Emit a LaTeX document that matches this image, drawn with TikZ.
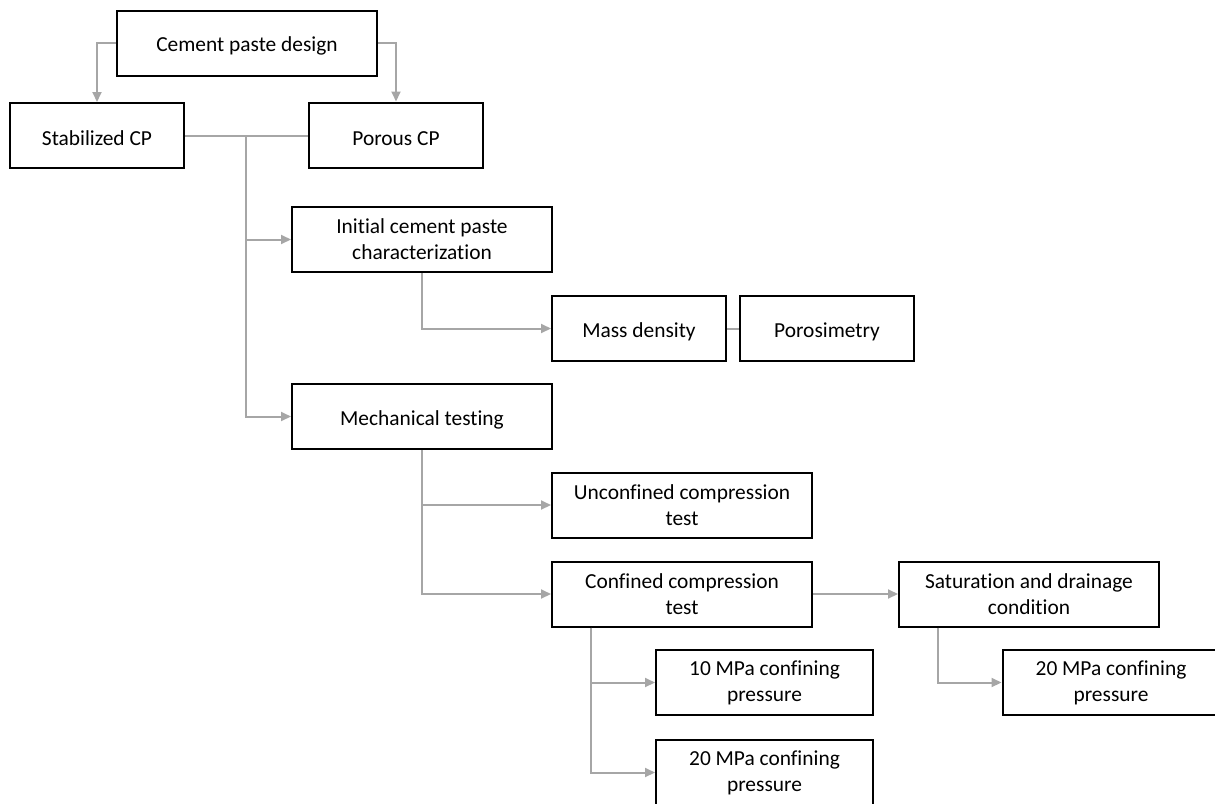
\documentclass[tikz,border=0pt]{standalone}
\usepackage{fontspec}
\setmainfont{Carlito}[Ligatures=NoCommon]
\usepackage{xcolor}
\definecolor{link-gray}{RGB}{166,166,166}
\usetikzlibrary{arrows.meta}
\usetikzlibrary{calc}
\tikzstyle{box}=[draw=black, line width=2pt, fill=white, align=center, inner sep=0pt, font=\fontsize{21.4}{26}\selectfont, execute at begin node={\rule{0pt}{21pt}}]
\tikzstyle{widebox}=[box, minimum width=260pt, minimum height=65pt]
\tikzstyle{smallbox}=[box, minimum width=174pt, minimum height=65pt]
\tikzstyle{pressbox}=[box, minimum width=217pt, minimum height=65pt]
\tikzstyle{link}=[draw=link-gray, line width=2pt]
\tikzstyle{linkarrow}=[link, -{Triangle[length=10pt,width=9pt]}]

\begin{document}
\begin{tikzpicture}[x=1pt,y=-1pt]
	\useasboundingbox (0,0) rectangle (1215,803);
	% boxes
	\node[widebox] (design) at (247,43) {Cement paste design};
	\node[smallbox] (stab) at (97,135.5) {Stabilized CP};
	\node[smallbox] (porous) at (396,135) {Porous CP};
	\node[widebox] (init) at (422,239.5) {Initial cement paste\\characterization};
	\node[smallbox] (mass) at (639,328.5) {Mass density};
	\node[smallbox] (poro) at (827,328.5) {Porosimetry};
	\node[widebox] (mech) at (422,416.5) {Mechanical testing};
	\node[widebox] (unconf) at (682,505) {Unconfined compression\\test};
	\node[widebox] (conf) at (682,594) {Confined compression\\test};
	\node[widebox] (satur) at (1029,594) {Saturation and drainage\\condition};
	\node[pressbox] (tenMPa) at (764.5,682.5) {10 MPa confining\\pressure};
	\node[pressbox] (twentyMPa) at (764.5,772.5) {20 MPa confining\\pressure};
	\node[pressbox] (twentyMPaR) at (1111,682.5) {20 MPa confining\\pressure};
	% connectors
	\draw[linkarrow] (design.west) -| (stab.north);
	\draw[linkarrow] (design.east) -| (porous.north);
	\draw[link] (stab.east) -- (stab.east -| porous.west);
	\coordinate (trunk) at (246,135.5);
	\draw[linkarrow] (trunk) |- (init.west);
	\draw[linkarrow] (trunk) |- (mech.west);
	\draw[linkarrow] (init.south) |- (mass.west);
	\draw[link] (mass.east) -- (poro.west);
	\draw[linkarrow] (mech.south) |- (unconf.west);
	\draw[linkarrow] (mech.south) |- (conf.west);
	\draw[linkarrow] (conf.east) -- (satur.west);
	\coordinate (confdrop) at ($(conf.south west)+(40,0)$);
	\draw[linkarrow] (confdrop) |- (tenMPa.west);
	\draw[linkarrow] (confdrop) |- (twentyMPa.west);
	\coordinate (saturdrop) at ($(satur.south west)+(40,0)$);
	\draw[linkarrow] (saturdrop) |- (twentyMPaR.west);
\end{tikzpicture}
\end{document}
